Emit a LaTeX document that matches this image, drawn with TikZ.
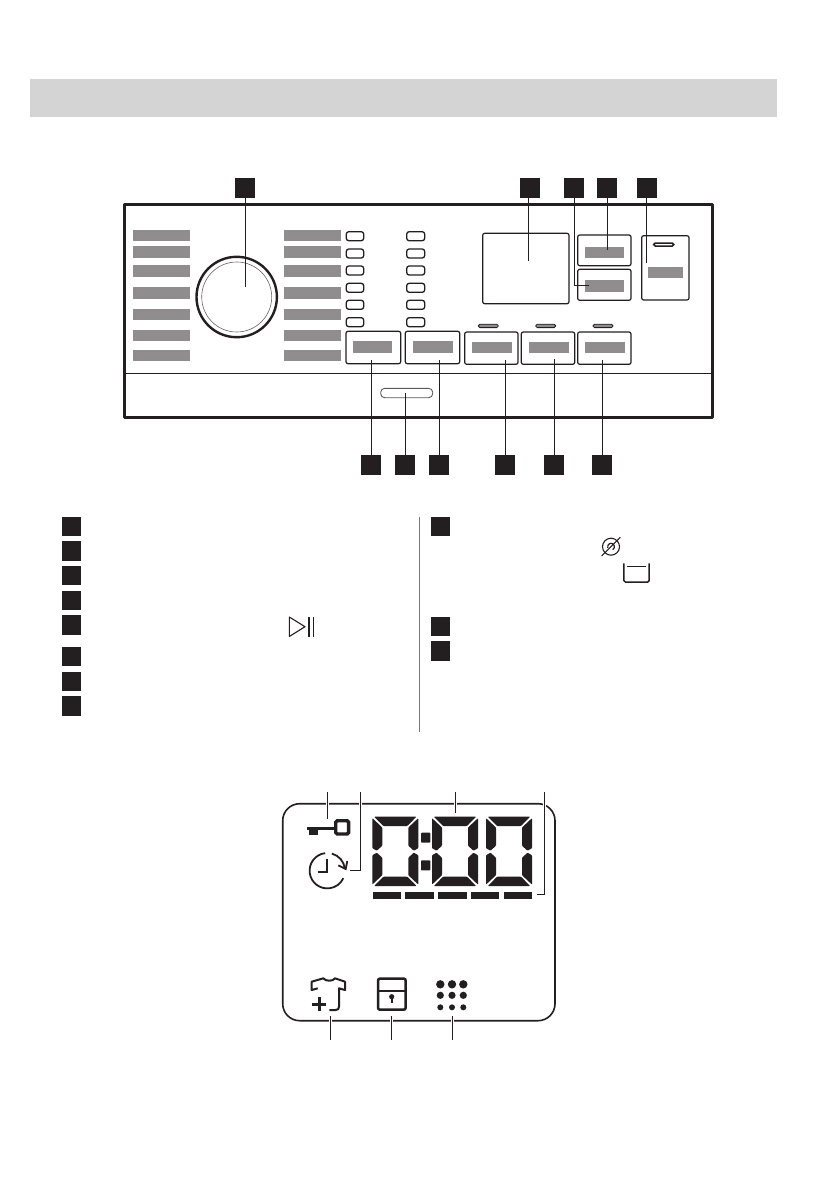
\documentclass[tikz,border=0pt]{standalone}
\definecolor{ink}{HTML}{231F20}
\definecolor{plate}{HTML}{8F8D8D}
\definecolor{band}{HTML}{D4D4D4}
\tikzset{
  numbox/.style={fill=ink, inner sep=0pt, minimum size=19.5pt},
  leader/.style={draw=ink, line width=1pt},
  halo/.style={draw=white, line width=3.5pt},
  knob/.style={draw=ink, line width=1.2pt, rounded corners=2pt},
  lamp/.style={draw=ink, line width=1.3pt, rounded corners=2.5pt},
  seg/.style={fill=ink, rounded corners=0.8pt}
}
\newcommand{\lcdzero}[1]{
  \begin{scope}[shift={(#1,816.7)}]
    \fill[seg] (1.8,0) -- (44.2,0) -- (35,9.3) -- (11,9.3) -- cycle;
    \fill[seg] (1.8,69.3) -- (44.2,69.3) -- (35,60) -- (11,60) -- cycle;
    \fill[seg] (0,1.4) -- (10,10.8) -- (10,29) -- (4.5,34) -- (0,31.5) -- cycle;
    \fill[seg] (0,67.9) -- (10,58.5) -- (10,41) -- (4.5,36) -- (0,38.5) -- cycle;
    \fill[seg] (46,1.4) -- (36,10.8) -- (36,29) -- (41.5,34) -- (46,31.5) -- cycle;
    \fill[seg] (46,67.9) -- (36,58.5) -- (36,41) -- (41.5,36) -- (46,38.5) -- cycle;
  \end{scope}
}
\begin{document}
\begin{tikzpicture}[x=1pt, y=-1pt]
  \useasboundingbox (0, 0) rectangle (839, 1191);

  % Header band
  \fill [band] (30, 79) rectangle (777, 117);

  % Panel
  \draw [ink, line width=3pt, line join=round] (124.7, 204.7) rectangle (712.3, 417);
  \draw [ink, line width=1.1pt] (124.7, 373.3) -- (712.3, 373.3);

  % Dial
  \draw [ink, line width=2.4pt] (236.7, 297) circle (40.2pt);
  \draw [ink!70, line width=0.6pt] (236.7, 297) circle (35pt);

  % Programme plates
  \foreach \top/\bot in {230/241, 246/258, 265/277, 287/299, 309/320, 330/341, 350/361} {
    \fill [plate] (133, \top) rectangle (190, \bot);
    \fill [plate] (284, \top) rectangle (341, \bot);
  }

  % Option lamps
  \foreach \ya in {231.7, 249, 266, 283.3, 300.3, 317.7} {
    \draw [lamp] (346.3, \ya) rectangle ++(17.4, 9);
    \draw [lamp] (406.7, \ya) rectangle ++(18, 9);
  }

  % Lower buttons
  \foreach \xa/\xb/\pa/\pb in {346/400.7/353/392.3, 405.3/459.7/412.7/452.7} {
    \draw [knob] (\xa, 331.3) rectangle (\xb, 363.7);
    \fill [plate] (\pa, 341.3) rectangle (\pb, 352.7);
  }
  \foreach \xa/\xb/\pa/\pb/\la in {464.7/518/472.3/512/478.3, 521.3/574.7/529/568.7/535.7, 577.7/631/585/624.7/593} {
    \draw [knob] (\xa, 332) rectangle (\xb, 364.3);
    \fill [plate] (\pa, 341.7) rectangle (\pb, 353);
    \draw [ink, fill=plate, line width=0.8pt, rounded corners=1.5pt] (\la, 324.2) rectangle ++(20, 3.4);
  }

  % Display window and upper buttons
  \draw [knob] (482.7, 233.3) rectangle (569, 303.7);
  \draw [knob] (577.7, 235) rectangle (631, 265.7);
  \fill [plate] (584.7, 246.7) rectangle (624, 258);
  \draw [knob] (577.7, 269.3) rectangle (631, 300.3);
  \fill [plate] (584.7, 280) rectangle (624, 291.7);
  \draw [knob] (641.7, 235.7) rectangle (689, 300);
  \fill [plate] (648, 266.7) rectangle (682.7, 278.3);
  \draw [ink, line width=1.5pt, rounded corners=1.5pt] (653.7, 243) rectangle ++(20, 3);

  % Slot
  \draw [ink!75, line width=0.9pt, rounded corners=4pt] (380.7, 388.3) rectangle (432.7, 397.7);

  % Upper callouts
  \node [numbox] (dial) at (245, 188) {};
  \node [numbox] (window) at (530, 188) {};
  \node [numbox] (lowerkey) at (574, 188) {};
  \node [numbox] (upperkey) at (607, 188) {};
  \node [numbox] (tallkey) at (647, 188) {};
  \coordinate (dialend) at (245, 286.7);
  \coordinate (windowend) at (528.3, 261);
  \coordinate (lowerend) at (589, 285);
  \coordinate (upperend) at (607.3, 250);
  \coordinate (tallend) at (646.7, 262.7);
  \draw [leader] (dial) -- (dialend);
  \draw [leader] (windowend |- window.south) -- (windowend);
  \draw [leader] (lowerkey.south) |- (lowerend);
  \draw [leader] (upperend |- upperkey.south) -- (upperend);
  \draw [leader] (tallend |- tallkey.south) -- (tallend);

  % Lower callouts
  \node [numbox] (btna) at (371, 465) {};
  \node [numbox] (slot) at (405, 465) {};
  \node [numbox] (btnb) at (439, 465) {};
  \node [numbox] (btnc) at (505, 465) {};
  \node [numbox] (btnd) at (554, 465) {};
  \node [numbox] (btne) at (602, 465) {};
  \coordinate (btnaend) at (371, 360);
  \coordinate (slotend) at (405, 393);
  \coordinate (btnbend) at (439, 360);
  \coordinate (btncend) at (505, 360);
  \coordinate (btndend) at (554, 359);
  \coordinate (btneend) at (602.3, 360);
  \draw [leader] (btna) -- (btnaend);
  \draw [leader] (slot) -- (slotend);
  \draw [leader] (btnb) -- (btnbend);
  \draw [leader] (btnc) -- (btncend);
  \draw [leader] (btnd) -- (btndend);
  \draw [leader] (btneend |- btne.north) -- (btneend);

  % Legend squares
  \foreach \i/\yc in {1/526.5, 2/551, 3/575.5, 4/600.5, 5/625, 6/656.5, 7/681.5, 8/706} {
    \node [numbox] (lefta\i) at (71.5, \yc) {};
  }
  \foreach \i/\yc in {1/526.5, 2/626.5, 3/651} {
    \node [numbox] (righta\i) at (440.5, \yc) {};
  }
  \draw [ink!60, line width=0.9pt] (419.3, 517) -- (419.3, 732);

  % Legend symbols
  \draw [ink, line width=1.1pt, line join=round] (289.3, 617) -- (305, 626.7) -- (289.3, 636.5) -- cycle;
  \draw [ink, line width=1.1pt] (309, 617) -- (309, 636.7);
  \draw [ink, line width=1.1pt] (313.3, 617) -- (313.3, 636.7);
  \draw [ink, line width=1.1pt] (611, 546.7) circle (8.5pt);
  \draw [ink, line width=1.2pt] (611, 546.7) ++(200:3.4pt) arc [start angle=200, end angle=-60, radius=3.4pt];
  \draw [ink, line width=1.1pt] (601.7, 556) -- (620.3, 537.3);
  \draw [ink, line width=1.5pt, rounded corners=1.5pt] (623.9, 563.3) -- (623.9, 582) -- (649.2, 582) -- (649.2, 563.3);
  \draw [ink, line width=1pt] (626.7, 566) -- (646, 566);

  % LCD frame
  \draw [ink, line width=1.6pt, rounded corners=17pt] (282.7, 803.7) rectangle (555, 1020.7);

  % LCD callouts
  \coordinate (keytop) at (327.3, 792);
  \coordinate (keyend) at (327.3, 819.3);
  \coordinate (clocktop) at (360.3, 792);
  \coordinate (clockend) at (350, 870);
  \coordinate (digitstop) at (455.3, 792);
  \coordinate (digitsend) at (455.3, 813);
  \coordinate (barstop) at (544.3, 792);
  \coordinate (barsend) at (537, 894);
  \coordinate (shirtend) at (330.3, 1040);
  \coordinate (shirtstart) at (330.3, 1016);
  \coordinate (lockend) at (391.3, 1040);
  \coordinate (lockstart) at (391.3, 1016);
  \coordinate (gridend) at (452.3, 1040);
  \coordinate (gridstart) at (452.3, 1016);
  \foreach \a/\b in {keytop/keyend, digitstop/digitsend, shirtstart/shirtend, lockstart/lockend, gridstart/gridend} {
    \draw [halo] (\a) -- (\b);
    \draw [leader] (\a) -- (\b);
  }
  \draw [halo] (clocktop) |- (clockend);
  \draw [leader] (clocktop) |- (clockend);
  \draw [halo] (barstop) |- (barsend);
  \draw [leader] (barstop) |- (barsend);

  % Key
  \draw [ink, line width=3.4pt, rounded corners=1.5pt] (335.7, 820.7) rectangle (348.6, 834);
  \fill [ink] (306.7, 826.5) rectangle (334.5, 830);
  \fill [ink] (309.3, 826.5) rectangle (318.3, 834.5);

  % Clock
  \coordinate (clk) at (327.3, 870.7);
  \draw [ink, line width=1.8pt] (clk) ++(97:17.7pt) arc [start angle=97, end angle=335, radius=17.7pt];
  \draw [ink, line width=1.8pt] (clk) ++(75:17.7pt) arc [start angle=75, end angle=7, radius=17.7pt];
  \draw [ink, line width=1.8pt] (338.3, 865.3) -- (345.7, 869) -- (347.3, 861);
  \draw [ink, line width=1.8pt] (327.3, 859.3) -- (327.3, 871.7) -- (318.3, 871.7);

  % Digits
  \lcdzero{372.3}
  \lcdzero{432}
  \lcdzero{486}
  \fill [ink, rounded corners=0.8pt] (421, 832.7) rectangle (430.3, 842.7);
  \fill [ink, rounded corners=0.8pt] (421, 860.3) rectangle (430.3, 870.3);
  \foreach \xa/\xb in {373/400.7, 405/434, 438/467, 471/499, 504/532.3} {
    \fill [ink] (\xa, 892.3) rectangle (\xb, 899);
  }

  % Shirt
  \draw [ink, line width=2pt, line join=round]
        (317.7, 988.3) -- (311.7, 990) -- (311.7, 981.7) -- (323.3, 978.3)
        .. controls (325.5, 981.5) and (333, 981.5) .. (335, 978.3)
        -- (345, 981.7) -- (345, 990) -- (339, 988.3) -- (339, 1006.5)
        .. controls (339, 1009) and (338, 1010) .. (335.5, 1010) -- (329.3, 1010);
  \draw [ink, line width=3pt] (311.7, 1004) -- (326, 1004);
  \draw [ink, line width=3pt] (319, 997) -- (319, 1010.7);

  % Lock
  \draw [ink, line width=2.5pt, rounded corners=2pt] (378, 978.6) rectangle (405.7, 1009.7);
  \draw [ink, line width=1.8pt] (378, 990.7) -- (405.7, 990.7);
  \fill [ink] (391.7, 996.7) circle (2.6pt);
  \draw [ink, line width=1.6pt] (391.7, 996.7) -- (391.7, 1003.3);

  % Dot grid
  \foreach \xc in {440.3, 452, 463.3} {
    \fill [ink] (\xc, 984.3) circle (4.2pt);
    \fill [ink] (\xc, 995.3) circle (3.6pt);
    \fill [ink] (\xc, 1007.3) circle (3pt);
  }
\end{tikzpicture}
\end{document}
